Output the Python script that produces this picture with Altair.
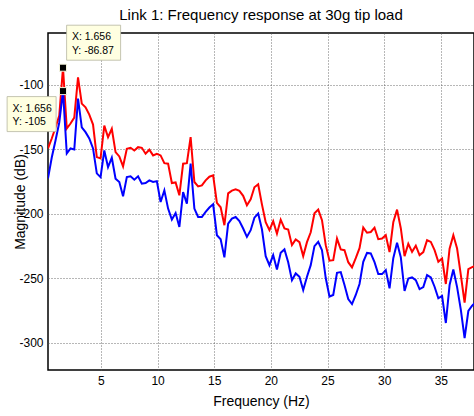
import altair as alt
import pandas as pd

# ---------------- data ----------------
freq_hz = [
    0.331, 0.663, 0.994, 1.325, 1.656, 1.988, 2.319, 2.650, 2.981, 3.313,
    3.644, 3.975, 4.306, 4.638, 4.969, 5.300, 5.631, 5.963, 6.294, 6.625,
    6.956, 7.288, 7.619, 7.950, 8.281, 8.613, 8.944, 9.275, 9.606, 9.938,
    10.269, 10.600, 10.931, 11.263, 11.594, 11.925, 12.256, 12.588, 12.919, 13.250,
    13.581, 13.913, 14.244, 14.575, 14.906, 15.238, 15.569, 15.900, 16.231, 16.563,
    16.894, 17.225, 17.556, 17.888, 18.219, 18.550, 18.881, 19.213, 19.544, 19.875,
    20.206, 20.538, 20.869, 21.200, 21.531, 21.863, 22.194, 22.525, 22.856, 23.188,
    23.519, 23.850, 24.181, 24.513, 24.844, 25.175, 25.506, 25.838, 26.169, 26.500,
    26.831, 27.163, 27.494, 27.825, 28.156, 28.488, 28.819, 29.150, 29.481, 29.813,
    30.144, 30.475, 30.806, 31.138, 31.469, 31.800, 32.131, 32.463, 32.794, 33.125,
    33.456, 33.788, 34.119, 34.450, 34.781, 35.113, 35.444, 35.775, 36.106, 36.438,
    36.769, 37.100, 37.431, 37.763, 38.094,
]

red_mag_db = [
    -149.4, -141.7, -133.2, -123.9, -86.87, -134.0, -130.1, -125.5, -94.4, -114.7,
    -117.5, -123.2, -130.9, -156.1, -157.1, -131.7, -140.7, -134.2, -152.3, -155.6,
    -163.3, -149.7, -148.9, -151.0, -148.4, -148.9, -153.5, -150.4, -154.8, -153.5,
    -154.8, -160.8, -161.2, -176.2, -175.7, -185.7, -161.2, -160.8, -140.7, -175.4,
    -178.8, -178.0, -174.1, -171.3, -170.3, -191.5, -195.0, -208.9, -184.2, -182.1,
    -181.1, -182.2, -186.1, -193.4, -188.8, -179.5, -177.2, -192.7, -206.6, -212.7,
    -205.8, -215.4, -204.6, -211.4, -212.2, -224.3, -219.9, -222.0, -232.8, -222.0,
    -214.3, -199.6, -196.8, -205.0, -224.3, -236.3, -235.9, -219.2, -227.6, -228.2,
    -237.5, -241.5, -234.4, -226.6, -210.7, -214.7, -214.1, -210.8, -219.7, -219.2,
    -216.6, -229.7, -206.6, -196.8, -211.2, -232.8, -223.2, -229.5, -224.7, -232.0,
    -229.7, -220.5, -221.8, -228.2, -237.2, -234.6, -254.4, -227.0, -216.6, -226.9,
    -247.5, -268.9, -242.9, -241.3, -240.2,
]

blue_mag_db = [
    -172.6, -156.4, -143.2, -129.3, -105.0, -153.3, -149.4, -150.2, -110.8, -133.0,
    -136.8, -141.7, -149.4, -168.7, -171.6, -151.0, -163.9, -156.6, -172.8, -175.4,
    -186.5, -171.6, -171.0, -173.6, -171.0, -176.7, -176.2, -174.1, -175.4, -174.7,
    -190.9, -181.9, -196.0, -204.5, -199.4, -210.2, -183.2, -192.1, -161.2, -196.0,
    -202.5, -202.5, -198.6, -195.2, -192.7, -216.6, -219.7, -233.8, -207.6, -203.7,
    -202.5, -205.6, -211.4, -217.9, -212.7, -203.0, -199.8, -212.0, -232.8, -239.8,
    -232.0, -243.1, -230.3, -227.6, -237.5, -251.4, -246.2, -248.8, -259.1, -248.8,
    -239.8, -225.1, -221.8, -228.2, -249.8, -264.1, -262.9, -245.7, -245.2, -255.2,
    -266.0, -269.9, -262.9, -254.4, -237.2, -230.3, -230.7, -237.5, -246.7, -246.7,
    -243.6, -257.8, -234.4, -222.5, -233.6, -259.8, -250.2, -249.3, -251.4, -258.3,
    -256.8, -247.5, -249.3, -256.5, -265.5, -263.7, -284.6, -255.2, -243.2, -256.8,
    -274.5, -296.4, -275.3, -271.2, -268.5,
]

# data tips
tip_hi_freq = [1.656]
tip_hi_mag = [-86.87]
tip_hi_xlabel = ["X: 1.656"]
tip_hi_ylabel = ["Y: -86.87"]

tip_lo_freq = [1.656]
tip_lo_mag = [-105.0]
tip_lo_xlabel = ["X: 1.656"]
tip_lo_ylabel = ["Y: -105"]

x_ticks = [5, 10, 15, 20, 25, 30, 35]
y_ticks = [-300, -250, -200, -150, -100]

title_text = "Link 1: Frequency response at 30g tip load"
x_title = "Frequency (Hz)"
y_title = "Magnitude (dB)"

# ---------------- chart ----------------
FONT = "Liberation Sans"
PLAIN_LABEL = "'' + datum.value"   # ASCII hyphen minus, as in the reference

common_axis = dict(
    grid=True, ticks=False, domain=False, labelPadding=5,
    labelFont=FONT, labelFontSize=12, labelColor="black",
    titleFont=FONT, titleFontSize=14, titleFontWeight="normal", titleColor="black",
    gridColor="#555555", gridDash=[1, 2], gridWidth=1, gridOpacity=0.85,
    labelExpr=PLAIN_LABEL,
)

red_df = pd.DataFrame({"freq": freq_hz, "mag": red_mag_db})
blue_df = pd.DataFrame({"freq": freq_hz, "mag": blue_mag_db})
tip_hi = pd.DataFrame({"freq": tip_hi_freq, "mag": tip_hi_mag,
                       "xl": tip_hi_xlabel, "yl": tip_hi_ylabel})
tip_lo = pd.DataFrame({"freq": tip_lo_freq, "mag": tip_lo_mag,
                       "xl": tip_lo_xlabel, "yl": tip_lo_ylabel})

x_enc = alt.X(
    "freq:Q",
    scale=alt.Scale(domain=[0.33125, 37.93], nice=False, zero=False),
    axis=alt.Axis(values=x_ticks, title=x_title,
                  titleY=31, titleBaseline="middle", **common_axis),
)
y_enc = alt.Y(
    "mag:Q",
    scale=alt.Scale(domain=[-321, -60], nice=False, zero=False),
    axis=alt.Axis(values=y_ticks, title=y_title,
                  titleX=-28, titleY=168.5, titleBaseline="middle",
                  titleAlign="center", titleAngle=270, **common_axis),
)

red_line = alt.Chart(red_df).mark_line(color="#ff0000", strokeWidth=2, clip=True).encode(
    x=x_enc, y=y_enc)
blue_line = alt.Chart(blue_df).mark_line(color="#0000ff", strokeWidth=2, clip=True).encode(
    x=x_enc, y=y_enc)

BOX_FILL = "#ffffe1"
BOX_STROKE = "#b5b5a0"

hi_box = alt.Chart(tip_hi).mark_rect(
    width=54, height=35, xOffset=30.6, yOffset=-25,
    fill=BOX_FILL, stroke=BOX_STROKE, strokeWidth=0.8).encode(x=x_enc, y=y_enc)
lo_box = alt.Chart(tip_lo).mark_rect(
    width=49, height=35, xOffset=-31.4, yOffset=23,
    fill=BOX_FILL, stroke=BOX_STROKE, strokeWidth=0.8).encode(x=x_enc, y=y_enc)

def tip_text(df, field, dx, dy):
    return alt.Chart(df).mark_text(
        align="left", baseline="middle", dx=dx, dy=dy,
        font=FONT, fontSize=10.5, color="black").encode(
        x=x_enc, y=y_enc, text=f"{field}:N")

hi_t1 = tip_text(tip_hi, "xl", 8.9, -31)
hi_t2 = tip_text(tip_hi, "yl", 8.9, -16.5)
lo_t1 = tip_text(tip_lo, "xl", -50.4, 17.8)
lo_t2 = tip_text(tip_lo, "yl", -50.4, 30.5)

hi_mark = alt.Chart(tip_hi).mark_square(
    size=49, fill="black", stroke="#f4f4dc", strokeWidth=1, opacity=1).encode(x=x_enc, y=y_enc)
lo_mark = alt.Chart(tip_lo).mark_square(
    size=49, fill="black", stroke="#f4f4dc", strokeWidth=1, opacity=1).encode(x=x_enc, y=y_enc)

chart = alt.layer(
    red_line, blue_line, hi_box, lo_box, hi_t1, hi_t2, lo_t1, lo_t2, hi_mark, lo_mark
).properties(
    width=426,
    height=337,
    background="white",
    padding={"left": 48, "top": 33, "right": 0, "bottom": 46},
    autosize=alt.AutoSizeParams(type="none"),
    title=alt.TitleParams(text=title_text, anchor="middle", frame="group",
                          font=FONT, fontSize=15, fontWeight="normal",
                          color="black", baseline="alphabetic", offset=12, dy=22),
).configure_view(
    stroke="black", strokeWidth=1.5, fill="white"
)

chart.save("out.html", embed_options={"renderer": "svg", "actions": False})
